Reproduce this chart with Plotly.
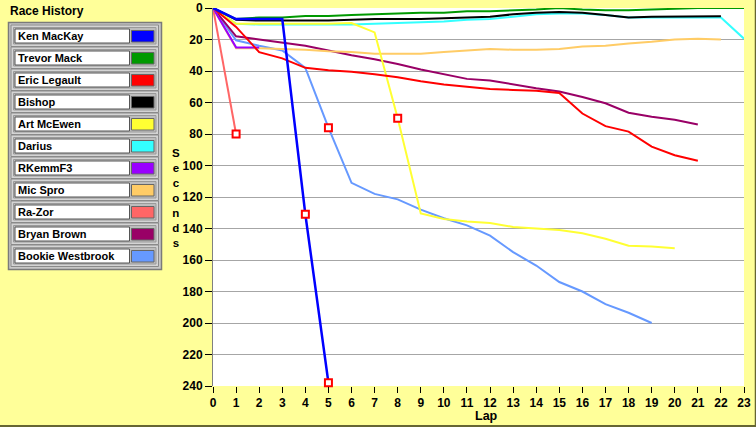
import plotly.graph_objects as go

# ---------------- data ----------------
drivers = ["Ken MacKay", "Trevor Mack", "Eric Legault", "Bishop", "Art McEwen",
           "Darius", "RKemmF3", "Mic Spro", "Ra-Zor", "Bryan Brown", "Bookie Westbrook"]
colors = ["#0000ff", "#009900", "#ff0000", "#000000", "#ffff33",
          "#33ffff", "#9900ff", "#ffcc66", "#ff6666", "#990066", "#6699ff"]

ken_mackay = [0, 7, 7, 7, 131, 238]
trevor_mack = [0, 7, 6, 6, 5, 5, 4.5, 4, 3.5, 3, 3, 2, 2, 1.5, 1, 0, 1, 1.5, 1.5, 1, 0.5, 0, 0, 0]
eric_legault = [0, 12, 28, 32, 38, 39.5, 40.5, 42, 44, 46.5, 48.5, 50, 51.5, 52, 52.5, 54,
                67, 75, 78.5, 88, 93.5, 97]
bishop = [0, 7.5, 8, 8, 8, 8, 7.5, 7, 7, 7, 6.5, 6, 5.5, 4, 3, 2.5, 3, 4.5, 6, 5.5, 5.5, 5.5, 5.2]
art_mcewen = [0, 10, 10, 10, 10, 10, 9.5, 15.5, 70, 130.5, 134, 135.5, 136.5, 139, 140, 141,
              143, 146.5, 151, 151.5, 152.5]
darius = [0, 10, 10.5, 10.5, 10.5, 10.5, 10.5, 10, 9.5, 9, 8.5, 7.5, 7, 5.5, 4, 3.5, 3.5,
          4.5, 6, 6, 6, 6, 6, 19.5]
rkemmf3 = [0, 25, 25]
mic_spro = [0, 25.5, 25.5, 26, 26.5, 27.5, 28, 29, 29, 29, 28, 27, 26, 26.5, 26.5, 26,
            24.5, 24, 22.5, 21.5, 20, 19.5, 20]
ra_zor = [0, 80]
bryan_brown = [0, 18, 20, 22, 24, 27, 30, 32.5, 35.5, 39, 42, 45, 46, 48.5, 51, 53, 56.5,
               60.5, 66.5, 69, 71, 74]
bookie_westbrook = [0, 20.5, 24, 27, 38, 76, 111, 118, 121.5, 128, 133.5, 138, 144.5, 155,
                    163.5, 174, 180, 188, 193.5, 200]

series = [ken_mackay, trevor_mack, eric_legault, bishop, art_mcewen, darius, rkemmf3,
          mic_spro, ra_zor, bryan_brown, bookie_westbrook]
line_widths = [2.5, 2, 2, 2, 2, 2, 2, 2, 2, 2, 2]

# laps flagged with a red square marker
flag_laps = [[4, 5], [], [], [], [8], [], [], [], [1], [], [5]]

x_ticks = list(range(0, 24))
y_ticks = list(range(0, 241, 20))

# ---------------- geometry (pixels) ----------------
W, H = 756, 427
PL, PR, PT, PB = 213, 744, 8, 386


def px(x):
    return (x - PL) / (PR - PL)


def py(y):
    return (PB - y) / (PB - PT)


fig = go.Figure()

# draw in reverse so first driver is on top
for i in reversed(range(len(drivers))):
    vals = series[i]
    fig.add_trace(go.Scatter(
        x=list(range(len(vals))), y=vals, mode="lines", name=drivers[i],
        line=dict(color=colors[i], width=line_widths[i]), showlegend=False,
        hoverinfo="x+y+name"))

fx, fy = [], []
for i, laps in enumerate(flag_laps):
    for lap in laps:
        fx.append(lap)
        fy.append(series[i][lap])
fig.add_trace(go.Scatter(
    x=fx, y=fy, mode="markers", showlegend=False, cliponaxis=False,
    marker=dict(symbol="square", size=7, color="white",
                line=dict(color="#ff0000", width=2))))

tick_font = dict(family="Liberation Sans", size=12, color="black", weight="bold")

fig.update_layout(
    width=W, height=H,
    margin=dict(l=PL, r=W - PR, t=PT, b=H - PB, pad=0, autoexpand=False),
    paper_bgcolor="#ffff99", plot_bgcolor="white",
    font=dict(family="Liberation Sans", color="black"),
    xaxis=dict(range=[0, 23], tickvals=x_ticks, ticks="outside", ticklen=6,
               tickcolor="black", tickwidth=1, showgrid=False, zeroline=False,
               showline=False, tickfont=tick_font, fixedrange=True, automargin=False),
    yaxis=dict(range=[240, 0], tickvals=y_ticks, ticks="outside", ticklen=7,
               tickcolor="black", tickwidth=1, showgrid=True, gridcolor="#a6a6a6",
               gridwidth=1, zeroline=False, showline=True, linecolor="#808080",
               linewidth=1, tickfont=tick_font, fixedrange=True, automargin=False),
)

shapes = []
annotations = []

# stacked y title and x title
annotations.append(dict(text="S<br>e<br>c<br>o<br>n<br>d<br>s", x=px(176), y=py(198),
                        xref="paper", yref="paper", xanchor="center", yanchor="middle",
                        showarrow=False, align="center",
                        font=dict(family="Liberation Sans", size=11.5, color="black",
                                  weight="bold")))
annotations.append(dict(text="Lap", x=px(486), y=py(416), xref="paper", yref="paper",
                        xanchor="center", yanchor="middle", showarrow=False,
                        font=dict(family="Liberation Sans", size=12.5, color="black",
                                  weight="bold")))

# legend panel
annotations.append(dict(text="Race History", x=px(8), y=py(11), xref="paper", yref="paper",
                        xanchor="left", yanchor="middle", showarrow=False,
                        font=dict(family="Liberation Sans", size=12, color="black",
                                  weight="bold")))


def rect(x0, y0, x1, y1, fill, line, lw=1):
    shapes.append(dict(type="rect", xref="paper", yref="paper",
                       x0=px(x0), x1=px(x1), y0=py(y1), y1=py(y0),
                       fillcolor=fill, line=dict(color=line, width=lw), layer="above"))


rect(8.5, 22.5, 161.5, 269.5, "#c8c8c8", "#7a7a7a", 1.5)
for i, name in enumerate(drivers):
    top = 25 + 22 * i
    rect(11, top, 158.5, top + 21.5, "#d4d4d4", "#8a8a8a", 1)
    rect(13.5, top + 2.5, 156, top + 19, "#bdbdbd", "#9a9a9a", 1)
    rect(15, top + 4, 129.5, top + 18, "white", "#555555", 1)
    rect(131.5, top + 5.5, 154, top + 17, colors[i], "#666666", 1)
    annotations.append(dict(text=name, x=px(16), y=py(top + 11.2), xref="paper",
                            yref="paper", xanchor="left", yanchor="middle",
                            showarrow=False,
                            font=dict(family="Liberation Sans", size=11, color="black",
                                      weight="bold")))

# outer frame shadow lines (bottom and right)
shapes.append(dict(type="line", xref="paper", yref="paper", x0=px(0), x1=px(W),
                   y0=py(426), y1=py(426), line=dict(color="#666633", width=2)))
shapes.append(dict(type="line", xref="paper", yref="paper", x0=px(755.5), x1=px(755.5),
                   y0=py(0), y1=py(H), line=dict(color="#666633", width=1.5)))

fig.update_layout(shapes=shapes, annotations=annotations)

post = ("document.body.style.margin='0';document.body.style.padding='0';"
        "document.body.style.overflow='hidden';"
        "var gd=document.getElementById('{plot_id}');"
        "gd.style.position='absolute';gd.style.left='0px';gd.style.top='0px';")
fig.write_html("out.html", config={"displayModeBar": False}, post_script=post)
